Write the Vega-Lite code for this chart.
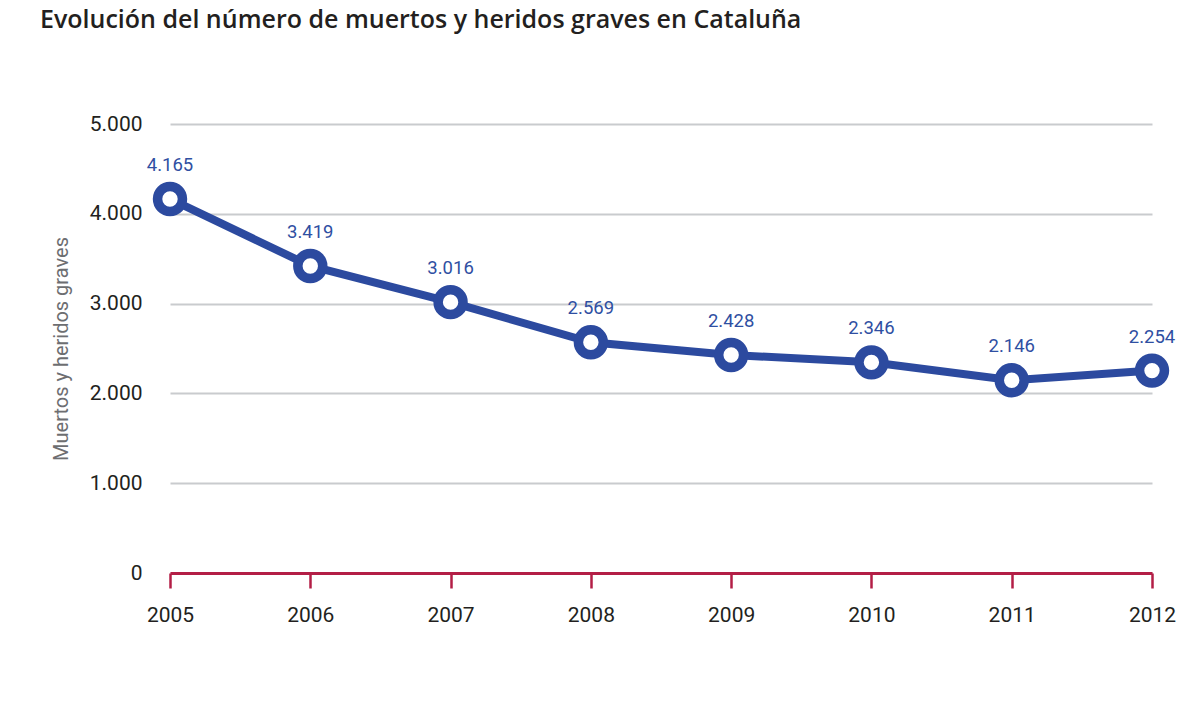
{
  "$schema": "https://vega.github.io/schema/vega-lite/v6.json",
  "width": 982,
  "height": 449,
  "autosize": {"type": "none"},
  "padding": {"left": 170, "top": 124, "right": 45, "bottom": 140},
  "background": "white",
  "title": {
    "text": "Evolución del número de muertos y heridos graves en Cataluña",
    "anchor": "start",
    "frame": "group",
    "dx": -130,
    "offset": 80,
    "font": "Open Sans",
    "fontSize": 25,
    "fontWeight": 600,
    "color": "#231f20"
  },
  "data": {
    "values": [
      {"year": "2005", "value": 4165},
      {"year": "2006", "value": 3419},
      {"year": "2007", "value": 3016},
      {"year": "2008", "value": 2569},
      {"year": "2009", "value": 2428},
      {"year": "2010", "value": 2346},
      {"year": "2011", "value": 2146},
      {"year": "2012", "value": 2254}
    ]
  },
  "config": {
    "view": {"stroke": null},
    "locale": {"number": {"decimal": ",", "thousands": ".", "grouping": [3], "currency": ["", " €"]}},
    "axis": {"labelFont": "Roboto", "titleFont": "Roboto"}
  },
  "encoding": {
    "x": {
      "field": "year",
      "type": "ordinal",
      "scale": {"type": "point", "padding": 0},
      "axis": {
        "title": null,
        "labelAngle": 0,
        "labelFontSize": 21,
        "labelColor": "#231f20",
        "labelPadding": 16,
        "domainColor": "#b31e46",
        "domainWidth": 3,
        "tickColor": "#b31e46",
        "tickWidth": 2.5,
        "tickSize": 15,
        "grid": false
      }
    },
    "y": {
      "field": "value",
      "type": "quantitative",
      "scale": {"domain": [0, 5000]},
      "axis": {
        "title": "Muertos y heridos graves",
        "titleFontSize": 20,
        "titleFontWeight": "normal",
        "titleColor": "#6d6e71",
        "titlePadding": 18,
        "values": [0, 1000, 2000, 3000, 4000, 5000],
        "format": ",d",
        "labelFontSize": 21,
        "labelColor": "#231f20",
        "labelPadding": 28,
        "domain": false,
        "ticks": false,
        "grid": true,
        "gridColor": "#c9cbce",
        "gridWidth": 2
      }
    }
  },
  "layer": [
    {
      "mark": {"type": "line", "color": "#2c4a9f", "strokeWidth": 8}
    },
    {
      "mark": {"type": "point", "shape": "circle", "filled": true, "fill": "white", "stroke": "#2c4a9f", "strokeWidth": 9.5, "size": 620, "opacity": 1}
    },
    {
      "mark": {"type": "text", "dy": -34, "color": "#2f4fa2", "font": "Roboto", "fontSize": 18.5, "baseline": "middle"},
      "encoding": {
        "text": {"field": "value", "type": "quantitative", "format": ",d"}
      }
    }
  ]
}
